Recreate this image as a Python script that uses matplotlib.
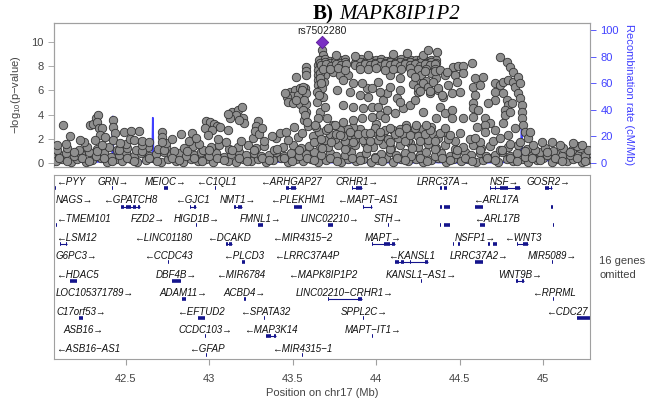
import matplotlib
matplotlib.use("Agg")
import matplotlib.pyplot as plt
import numpy as np

plt.rcParams['font.family'] = ['Liberation Sans', 'DejaVu Sans']
plt.rcParams['mathtext.fontset'] = 'custom'
plt.rcParams['mathtext.rm'] = 'Liberation Sans'
plt.rcParams['mathtext.it'] = 'Liberation Sans:italic'

# ---------------- data (position in Mb, -log10 p) ----------------
lead_snp = "rs7502280"
lead_pos = 43.674
lead_logp = 10.0

# dense low band, read row by row
base_a = [(42.08, .15), (42.12, .35), (42.17, .10), (42.21, .30), (42.26, .05), (42.30, .25),
          (42.35, .40), (42.39, .10), (42.44, .30), (42.48, .15), (42.53, .35), (42.57, .05),
          (42.62, .25), (42.66, .40), (42.71, .10), (42.75, .30), (42.80, .20), (42.84, .05),
          (42.89, .35), (42.93, .15), (42.98, .30), (43.02, .10), (43.07, .40), (43.11, .20),
          (43.16, .05), (43.20, .30), (43.25, .15), (43.29, .35), (43.34, .10), (43.38, .25),
          (43.43, .40), (43.47, .05), (43.52, .30), (43.56, .15), (43.61, .35), (43.65, .10),
          (43.70, .25), (43.74, .40), (43.79, .05), (43.83, .30), (43.88, .15), (43.92, .35),
          (43.97, .10), (44.01, .25), (44.06, .40), (44.10, .05), (44.15, .30), (44.19, .15),
          (44.24, .35), (44.28, .10), (44.33, .25), (44.37, .40), (44.42, .05), (44.46, .30),
          (44.51, .15), (44.55, .35), (44.60, .10), (44.64, .25), (44.69, .40), (44.73, .05),
          (44.78, .30), (44.82, .15), (44.87, .35), (44.91, .10), (44.96, .25), (45.00, .40),
          (45.05, .05), (45.09, .30), (45.14, .15), (45.18, .35), (45.23, .10), (45.26, .25)]
base_b = [(42.10, .65), (42.14, .85), (42.19, .55), (42.23, .75), (42.28, .90), (42.32, .60),
          (42.37, .80), (42.41, .50), (42.46, .70), (42.50, .90), (42.55, .60), (42.59, .80),
          (42.64, .55), (42.68, .75), (42.73, .95), (42.77, .65), (42.82, .85), (42.86, .55),
          (42.91, .70), (42.95, .90), (43.00, .60), (43.04, .80), (43.09, .50), (43.13, .75),
          (43.18, .95), (43.22, .65), (43.27, .85), (43.31, .55), (43.36, .70), (43.40, .90),
          (43.45, .60), (43.49, .80), (43.54, .55), (43.58, .75), (43.63, .95), (43.67, .65),
          (43.72, .85), (43.76, .55), (43.81, .70), (43.85, .90), (43.90, .60), (43.94, .80),
          (43.99, .50), (44.03, .75), (44.08, .95), (44.12, .65), (44.17, .85), (44.21, .55),
          (44.26, .70), (44.30, .90), (44.35, .60), (44.39, .80), (44.44, .55), (44.48, .75),
          (44.53, .95), (44.57, .65), (44.62, .85), (44.66, .55), (44.71, .70), (44.75, .90),
          (44.80, .60), (44.84, .80), (44.89, .50), (44.93, .75), (44.98, .95), (45.02, .65),
          (45.07, .85), (45.11, .55), (45.16, .70), (45.20, .90), (45.25, .60)]
base_c = [(42.09, 1.05), (42.15, 1.25), (42.22, 1.10), (42.27, 1.35), (42.33, 1.15), (42.40, 1.30),
          (42.45, 1.05), (42.51, 1.25), (42.56, 1.10), (42.63, 1.35), (42.69, 1.15), (42.74, 1.30),
          (42.79, 1.00), (42.85, 1.20), (42.90, 1.40), (42.96, 1.10), (43.01, 1.30), (43.06, 1.45),
          (43.12, 1.15), (43.17, 1.35), (43.23, 1.50), (43.28, 1.20), (43.33, 1.40), (43.39, 1.10),
          (43.44, 1.30), (43.50, 1.50), (43.55, 1.20), (43.60, 1.40), (43.66, 1.60), (43.71, 1.30),
          (43.77, 1.50), (43.82, 1.20), (43.87, 1.45), (43.93, 1.65), (43.98, 1.35), (44.04, 1.55),
          (44.09, 1.25), (44.14, 1.45), (44.20, 1.65), (44.25, 1.35), (44.31, 1.55), (44.36, 1.25),
          (44.41, 1.45), (44.47, 1.15), (44.52, 1.35), (44.58, 1.50), (44.63, 1.20), (44.68, 1.40),
          (44.74, 1.10), (44.79, 1.30), (44.85, 1.45), (44.90, 1.15), (44.95, 1.05), (45.01, 1.25),
          (45.06, 1.00), (45.12, 1.20), (45.17, 1.05), (45.22, 1.25), (45.27, 1.10)]
base_d = [(42.100, .45), (42.145, .20), (42.190, .95), (42.235, .45), (42.280, .20), (42.325, 1.0),
          (42.370, .45), (42.415, .20), (42.460, 1.05), (42.505, .45), (42.550, .20), (42.595, 1.0),
          (42.640, .45), (42.685, .20), (42.730, 1.05), (42.775, .45), (42.820, .25), (42.865, 1.0),
          (42.910, .45), (42.955, .20), (43.000, 1.1), (43.045, .45), (43.090, .25), (43.135, 1.1),
          (43.180, .45), (43.225, .20), (43.270, 1.1), (43.315, .45), (43.360, .25), (43.405, 1.15),
          (43.450, .45), (43.495, .20), (43.540, 1.1), (43.585, .45), (43.630, .25), (43.675, 1.2),
          (43.720, .45), (43.765, .20), (43.810, 1.15), (43.855, .45), (43.900, .25), (43.945, 1.2),
          (43.990, .45), (44.035, .20), (44.080, 1.15), (44.125, .45), (44.170, .25), (44.215, 1.2),
          (44.260, .45), (44.305, .20), (44.350, 1.15), (44.395, .45), (44.440, .25), (44.485, 1.1),
          (44.530, .45), (44.575, .20), (44.620, 1.1), (44.665, .45), (44.710, .25), (44.755, 1.05),
          (44.800, .45), (44.845, .20), (44.890, 1.0), (44.935, .45), (44.980, .25), (45.025, .95),
          (45.070, .45), (45.115, .20), (45.160, .95), (45.205, .45), (45.250, .20)]
fringe = [(42.14, 1.55), (42.25, 1.70), (42.36, 1.50), (42.50, 1.60), (42.60, 1.45), (42.74, 1.65),
          (42.88, 1.80), (42.94, 1.60), (43.05, 1.95), (43.10, 1.70), (43.19, 1.85), (43.26, 2.05),
          (43.33, 1.80), (43.40, 2.10), (43.47, 1.90), (43.53, 2.15), (44.47, 1.80), (44.56, 1.95),
          (44.62, 1.70), (44.70, 1.85), (44.80, 1.60), (44.86, 1.75), (44.94, 1.50), (45.10, 1.45),
          (45.20, 1.40)]
peak_base = [(43.62, 2.2), (43.66, 2.6), (43.69, 1.9), (43.72, 2.4), (43.75, 2.0), (43.78, 2.7),
             (43.81, 1.8), (43.84, 2.3), (43.87, 2.0), (43.90, 2.8), (43.92, 1.9), (43.95, 2.2),
             (43.98, 2.6), (44.01, 1.9), (44.04, 2.3), (44.07, 2.0), (44.10, 2.7), (44.13, 2.1),
             (44.16, 2.4), (44.19, 1.9), (44.22, 2.6), (44.25, 2.2), (44.28, 2.8), (44.31, 1.9),
             (44.34, 2.4), (44.37, 2.1), (44.40, 2.6), (44.43, 2.0), (43.64, 3.0), (43.74, 3.1),
             (43.86, 3.0), (44.00, 3.2), (44.18, 3.1), (44.33, 3.0),
             (43.63, 1.7), (43.67, 2.0), (43.70, 2.7), (43.73, 1.7), (43.76, 2.4), (43.80, 2.2),
             (43.83, 2.8), (43.86, 1.7), (43.89, 2.4), (43.93, 2.5), (43.96, 1.8), (43.99, 2.9),
             (44.02, 2.2), (44.05, 2.7), (44.08, 1.7), (44.11, 2.4), (44.14, 2.8), (44.17, 1.8),
             (44.20, 2.3), (44.23, 2.9), (44.26, 1.8), (44.29, 2.4), (44.32, 2.7), (44.35, 1.8),
             (44.38, 2.5), (44.41, 2.9), (44.44, 2.3)]

# scattered points left of the peak
left_pts = [(42.123, 3.14), (42.284, 3.14), (42.302, 3.22), (42.320, 3.72), (42.332, 3.97),
            (42.326, 3.39), (42.338, 2.89), (42.356, 2.89), (42.344, 2.31), (42.314, 1.90),
            (42.422, 3.55), (42.422, 2.98), (42.434, 2.48), (42.422, 1.90), (42.488, 2.56),
            (42.530, 2.64), (42.578, 2.64), (42.524, 1.98), (42.548, 1.90), (42.596, 1.82),
            (42.638, 1.74), (42.716, 2.56), (42.716, 2.15), (42.716, 1.74), (42.829, 2.40),
            (42.775, 1.98), (42.165, 2.23), (42.225, 1.90), (42.087, 1.49), (42.464, 1.65),
            (42.374, 2.15)]
mid_pts = [(43.135, 4.21), (43.171, 4.38), (43.195, 4.63), (43.159, 3.97), (43.123, 3.72),
           (43.201, 3.72), (43.207, 3.31), (43.177, 3.55), (43.111, 4.05), (42.979, 3.47),
           (43.003, 3.39), (43.027, 3.22), (43.045, 3.06), (42.973, 2.89), (43.015, 2.73),
           (43.063, 2.98), (42.991, 2.31), (43.290, 3.47), (43.278, 3.06), (43.272, 2.64),
           (43.296, 2.40), (43.314, 2.89), (42.895, 2.48), (42.919, 2.07), (43.111, 2.73),
           (43.374, 2.23), (43.422, 2.48)]
shoulder_pts = [(43.482, 5.87), (43.512, 6.03), (43.542, 6.20), (43.572, 6.20), (43.554, 5.70),
                (43.494, 5.54), (43.464, 5.45), (43.530, 5.62), (43.578, 5.79), (43.452, 5.79),
                (43.470, 5.04), (43.500, 4.96), (43.542, 4.88), (43.578, 4.88), (43.518, 5.21),
                (43.566, 5.21), (43.518, 7.11), (43.578, 7.93), (43.578, 7.60), (43.578, 7.27),
                (43.578, 4.21), (43.566, 3.55), (43.590, 3.06), (43.506, 2.98), (43.458, 2.56),
                (43.554, 2.48), (43.560, 6.28), (43.554, 6.03), (43.560, 4.38), (43.572, 3.97),
                (43.584, 3.39)]
column_pts = [(43.674, 9.34), (43.680, 8.93), (43.662, 8.51), (43.650, 8.10), (43.650, 7.69),
              (43.650, 7.27), (43.650, 6.86), (43.650, 6.45), (43.662, 6.03), (43.686, 7.9),
              (43.692, 7.3), (43.686, 6.7), (43.674, 6.2), (43.644, 5.87), (43.668, 5.45),
              (43.644, 5.04), (43.662, 4.21), (43.650, 3.72), (43.632, 3.14), (43.680, 5.45),
              (43.692, 4.63), (43.704, 3.72), (43.662, 7.45), (43.662, 7.0), (43.668, 6.6),
              (43.680, 8.4), (43.656, 5.6)]
ridge_pts = [(43.66, 8.5), (43.69, 8.6), (43.72, 8.45), (43.75, 8.55), (43.78, 8.5), (43.81, 8.6),
             (43.88, 8.5), (43.91, 8.6), (43.94, 8.45), (43.97, 8.55), (44.00, 8.5), (44.03, 8.6),
             (44.06, 8.45), (44.09, 8.55), (44.12, 8.5), (44.15, 8.6), (44.18, 8.45), (44.21, 8.55),
             (44.24, 8.5), (44.27, 8.6), (44.30, 8.45), (44.33, 8.55), (44.36, 8.5),
             (43.665, 8.3), (43.695, 8.35), (43.725, 8.3), (43.755, 8.35), (43.785, 8.3),
             (43.815, 8.35), (43.875, 8.3), (43.905, 8.35), (43.935, 8.3), (43.965, 8.35),
             (43.995, 8.3), (44.025, 8.35), (44.055, 8.3), (44.085, 8.35), (44.115, 8.3),
             (44.145, 8.35), (44.175, 8.3), (44.205, 8.35), (44.235, 8.3), (44.265, 8.35),
             (44.295, 8.3), (44.325, 8.35), (44.355, 8.3),
             (43.67, 8.1), (43.70, 8.15), (43.73, 8.05), (43.76, 8.2), (43.79, 8.1), (43.82, 8.15),
             (43.87, 8.1), (43.90, 8.05), (43.93, 8.2), (43.96, 8.1), (43.99, 8.15), (44.02, 8.05),
             (44.05, 8.2), (44.08, 8.1), (44.11, 8.15), (44.14, 8.05), (44.17, 8.2), (44.20, 8.1),
             (44.23, 8.15), (44.26, 8.05), (44.29, 8.2), (44.32, 8.1), (44.35, 8.15),
             (43.68, 7.8), (43.72, 7.75), (43.77, 7.85), (43.81, 7.7), (43.90, 7.8), (43.95, 7.75),
             (44.00, 7.85), (44.05, 7.7), (44.10, 7.8), (44.15, 7.75), (44.20, 7.85), (44.25, 7.8),
             (44.30, 7.75), (44.35, 7.8),
             (43.76, 8.95), (43.95, 8.9), (44.10, 9.0), (44.183, 9.09), (44.28, 8.95),
             (44.308, 9.34), (44.362, 9.17), (43.87, 8.85)]
block_pts = [(44.21, 7.4), (44.24, 6.9), (44.27, 7.3), (44.30, 6.8), (44.33, 7.4), (44.36, 7.0),
             (44.22, 6.5), (44.25, 6.2), (44.28, 6.6), (44.31, 6.3), (44.34, 6.7), (44.37, 6.2),
             (44.23, 7.1), (44.29, 7.6), (44.35, 7.6), (44.26, 5.95), (44.32, 5.95),
             (44.380, 7.69), (44.410, 7.27), (44.428, 6.45), (44.392, 5.62)]
under_pts = [(43.740, 7.52), (43.781, 7.27), (43.829, 7.27), (43.763, 6.03), (43.841, 5.87),
             (43.901, 5.62), (43.949, 5.45), (44.039, 5.21), (44.063, 5.79), (44.141, 7.02),
             (44.009, 6.69), (44.081, 7.27), (44.123, 7.85), (43.799, 4.79), (43.859, 4.63),
             (43.919, 4.55), (43.973, 4.63), (44.009, 4.63), (44.063, 4.38), (44.021, 3.97),
             (43.973, 3.80), (43.913, 3.72), (43.859, 3.55), (43.799, 3.39), (43.751, 3.14),
             (43.710, 2.89), (44.051, 3.72), (44.111, 4.13), (44.159, 4.55), (44.201, 4.79),
             (44.231, 5.21), (44.278, 4.21), (44.123, 5.37), (44.141, 5.04), (44.021, 5.87),
             (43.943, 6.20), (43.859, 6.61), (43.799, 6.86), (43.913, 6.61), (43.973, 6.20),
             (44.081, 6.28), (44.141, 6.03), (44.249, 5.87), (44.321, 5.79), (44.368, 6.03),
             (44.398, 5.45), (44.380, 4.63), (44.410, 4.13), (44.356, 3.72), (44.296, 3.14),
             (44.237, 3.14), (44.177, 2.89), (44.135, 2.56), (44.081, 2.89), (44.021, 2.56),
             (43.961, 2.48), (43.841, 2.56), (43.781, 2.31)]
right_pts = [(44.458, 7.93), (44.488, 8.02), (44.518, 8.02), (44.572, 8.26), (44.518, 7.44),
             (44.470, 7.27), (44.482, 6.69), (44.590, 7.02), (44.638, 7.11), (44.740, 8.76),
             (44.781, 8.35), (44.578, 6.28), (44.620, 6.45), (44.710, 6.61), (44.740, 6.45),
             (44.758, 6.69), (44.787, 6.86), (44.817, 6.69), (44.829, 6.28), (44.847, 5.79),
             (44.859, 5.37), (44.871, 4.79), (44.871, 4.21), (44.871, 3.72), (44.877, 3.14),
             (44.889, 2.56), (44.907, 2.07), (44.452, 5.79), (44.500, 5.87), (44.590, 5.62),
             (44.710, 5.87), (44.758, 5.79), (44.781, 5.21), (44.787, 4.79), (44.811, 4.96),
             (44.769, 4.38), (44.769, 3.97), (44.799, 4.21), (44.758, 3.31), (44.710, 5.21),
             (44.668, 4.96), (44.578, 4.96), (44.578, 4.55), (44.608, 4.38), (44.578, 3.80),
             (44.452, 4.38), (44.452, 3.72), (44.518, 3.72), (44.650, 3.72), (44.680, 3.31),
             (44.650, 3.14), (44.602, 2.98), (44.500, 2.48), (44.650, 2.56), (44.710, 2.73),
             (44.829, 2.89), (44.787, 2.31), (44.740, 2.07), (44.590, 2.07), (44.919, 2.56),
             (44.991, 1.74), (45.051, 1.74), (45.177, 1.65), (45.231, 1.49), (44.799, 7.93),
             (44.817, 7.52), (44.847, 7.11), (44.859, 6.61), (44.422, 7.52)]

# recombination rate (cM/Mb)
recomb_pos = [42.07, 42.15, 42.25, 42.35, 42.418, 42.422, 42.426, 42.50, 42.60, 42.658, 42.662,
              42.666, 42.75, 42.90, 43.05, 43.20, 43.35, 43.50, 43.65, 43.80, 43.933, 43.937,
              43.941, 44.05, 44.20, 44.346, 44.350, 44.354, 44.45, 44.60, 44.75, 44.867, 44.871,
              44.875, 45.00, 45.10, 45.20, 45.28]
recomb_rate = [0.8, 1.2, 0.6, 1.0, 1.0, 35, 1.0, 0.8, 1.2, 1.0, 34, 1.0, 0.8, 1.5, 2.0, 1.2, 0.8,
               1.0, 0.5, 0.3, 0.5, 15, 0.5, 0.4, 0.3, 0.5, 15, 0.5, 0.2, 0.2, 0.5, 1.0, 43, 1.0,
               2.0, 1.5, 1.0, 1.2]

# genes: name, row, strand, exon blocks (Mb), joined by an intron line
genes = [
    ("PYY", 1, "-", [(42.078, 42.084)], False),
    ("GRN", 1, "+", [(42.418, 42.426)], False),
    ("MEIOC", 1, "+", [(42.728, 42.752)], False),
    ("C1QL1", 1, "-", [(43.036, 43.042)], False),
    ("ARHGAP27", 1, "-", [(43.458, 43.476), (43.488, 43.518)], True),
    ("CRHR1", 1, "+", [(43.853, 43.862), (43.880, 43.913)], True),
    ("LRRC37A", 1, "+", [(44.380, 44.392), (44.404, 44.422)], False),
    ("NSF", 1, "+", [(44.680, 44.686), (44.710, 44.720), (44.740, 44.790), (44.830, 44.859)], True),
    ("GOSR2", 1, "+", [(45.009, 45.033), (45.045, 45.051)], True),
    ("NAGS", 2, "+", [(42.079, 42.084)], False),
    ("GPATCH8", 2, "-", [(42.470, 42.488), (42.500, 42.530), (42.545, 42.560), (42.575, 42.584)], True),
    ("GJC1", 2, "-", [(42.883, 42.890), (42.910, 42.919)], True),
    ("NMT1", 2, "+", [(43.147, 43.160), (43.170, 43.195)], True),
    ("PLEKHM1", 2, "-", [(43.506, 43.554)], False),
    ("MAPT\u2212AS1", 2, "-", [(43.919, 43.925), (43.967, 43.973)], True),
    ("ARL17A", 2, "-", [(44.380, 44.395), (44.405, 44.440), (44.590, 44.638), (45.045, 45.057)], False),
    ("TMEM101", 3, "-", [(42.084, 42.090)], False),
    ("FZD2", 3, "+", [(42.630, 42.634)], False),
    ("HIGD1B", 3, "+", [(42.923, 42.927)], False),
    ("FMNL1", 3, "+", [(43.290, 43.320)], False),
    ("LINC02210", 3, "+", [(43.710, 43.740)], False),
    ("STH", 3, "+", [(44.073, 44.077)], False),
    ("ARL17B", 3, "-", [(44.380, 44.388), (44.405, 44.440), (44.620, 44.650), (45.060, 45.066)], False),
    ("LSM12", 4, "-", [(42.105, 42.110), (42.142, 42.147)], True),
    ("LINC01180", 4, "-", [(42.720, 42.724)], False),
    ("DCAKD", 4, "-", [(43.099, 43.110), (43.120, 43.135)], True),
    ("MIR4315\u22122", 4, "-", [(43.553, 43.556)], False),
    ("MAPT", 4, "+", [(43.973, 43.980), (44.045, 44.085), (44.095, 44.111)], True),
    ("NSFP1", 4, "+", [(44.458, 44.468), (44.490, 44.500), (44.668, 44.680), (44.700, 44.722)], False),
    ("WNT3", 4, "-", [(44.841, 44.848), (44.880, 44.907)], True),
    ("G6PC3", 5, "+", [(42.091, 42.096)], False),
    ("CCDC43", 5, "-", [(42.754, 42.760)], False),
    ("PLCD3", 5, "-", [(43.195, 43.213)], False),
    ("LRRC37A4P", 5, "-", [(43.584, 43.584)], False),
    ("KANSL1", 5, "-", [(44.111, 44.135), (44.150, 44.165), (44.200, 44.210), (44.290, 44.308)], True),
    ("LRRC37A2", 5, "+", [(44.590, 44.638)], False),
    ("MIR5089", 5, "+", [(45.055, 45.059)], False),
    ("HDAC5", 6, "-", [(42.165, 42.207)], False),
    ("DBF4B", 6, "+", [(42.775, 42.829)], False),
    ("MIR6784", 6, "-", [(43.188, 43.191)], False),
    ("MAPK8IP1P2", 6, "-", [(43.678, 43.682)], False),
    ("KANSL1\u2212AS1", 6, "+", [(44.270, 44.274)], False),
    ("WNT9B", 6, "+", [(44.835, 44.848), (44.870, 44.883)], True),
    ("LOC105371789", 7, "+", [(42.193, 42.197)], False),
    ("ADAM11", 7, "+", [(42.835, 42.859)], False),
    ("ACBD4", 7, "+", [(43.207, 43.219)], False),
    ("LINC02210\u2212CRHR1", 7, "+", [(43.710, 43.714), (43.745, 43.749), (43.890, 43.913)], True),
    ("RPRML", 7, "-", [(45.061, 45.065)], False),
    ("C17orf53", 8, "+", [(42.219, 42.243)], False),
    ("EFTUD2", 8, "-", [(42.931, 42.973)], False),
    ("SPATA32", 8, "-", [(43.330, 43.334)], False),
    ("SPPL2C", 8, "+", [(43.923, 43.927)], False),
    ("CDC27", 8, "-", [(45.201, 45.278)], False),
    ("ASB16", 9, "+", [(42.247, 42.252)], False),
    ("CCDC103", 9, "+", [(42.977, 42.981)], False),
    ("MAP3K14", 9, "-", [(43.338, 43.370), (43.385, 43.398)], True),
    ("MAPT\u2212IT1", 9, "+", [(43.977, 43.981)], False),
    ("ASB16\u2212AS1", 10, "-", [(42.253, 42.258)], False),
    ("GFAP", 10, "-", [(42.983, 42.988)], False),
    ("MIR4315\u22121", 10, "-", [(43.555, 43.559)], False),
]
xticks = [42.5, 43, 43.5, 44, 44.5, 45]

# ---------------- style ----------------
pt_face = "#8f8f8f"
pt_edge = "#333333"
rec_col = "#4040ff"
axis_gray = "#a0a0a0"
text_gray = "#444444"
gene_col = "#14148c"
xlim = (42.07, 45.28)

fig = plt.figure(figsize=(6.48, 4.01), dpi=100)
W, H = 648.0, 401.0
ax = fig.add_axes([54 / W, 1 - 167 / H, 536 / W, 144 / H])
gax = fig.add_axes([54 / W, 1 - 359 / H, 536 / W, 184 / H])

# recombination on a twin axis kept behind the points
ax2 = ax.twinx()
ax.set_zorder(ax2.get_zorder() + 1)
ax.patch.set_visible(False)
ax2.plot(recomb_pos, recomb_rate, color=rec_col, lw=1.3)
ax2.set_ylim(-3.0, 105.3)
ax2.set_yticks([0, 20, 40, 60, 80, 100])
ax2.tick_params(axis='y', colors=rec_col, labelsize=8, length=4, width=0.6, labelcolor=rec_col)
ax2.set_ylabel("Recombination rate (cM/Mb)", color=rec_col, fontsize=8, rotation=270, labelpad=11)

pts = base_a + base_b + base_c + base_d + fringe + peak_base + left_pts + mid_pts + \
    shoulder_pts + column_pts + under_pts + ridge_pts + block_pts + right_pts
px = np.array([p[0] for p in pts])
py = np.array([p[1] for p in pts])
ax.scatter(px, py, s=37, c=pt_face, edgecolors=pt_edge, linewidths=0.6, zorder=3)
ax.scatter([lead_pos], [lead_logp], s=40, marker='D', c='#7a2fc4', edgecolors='#5a1a9a',
           linewidths=0.6, zorder=4)
ax.text(lead_pos, lead_logp + 0.5, lead_snp, ha='center', va='bottom', fontsize=7.5, color='#222222')

ax.set_xlim(*xlim)
ax.set_ylim(-0.33, 11.57)
ax.set_yticks([0, 2, 4, 6, 8, 10])
ax.set_xticks([])
ax.tick_params(axis='y', labelsize=8, length=4, width=0.6, colors=axis_gray, labelcolor=text_gray)
ax.set_ylabel(r"$-$log$_{10}$(p$-$value)", fontsize=8, color=text_gray, labelpad=6)
for a in (ax, ax2):
    for s in a.spines.values():
        s.set_color(axis_gray)
        s.set_linewidth(0.8)
ax2.spines['right'].set_color("#b8b8ff")

# ---------------- gene track ----------------
gax.set_xlim(*xlim)
gax.set_ylim(10.22, 0.30)
gax.set_yticks([])
gax.set_xticks(xticks)
gax.set_xticklabels(["42.5", "43", "43.5", "44", "44.5", "45"])
gax.tick_params(axis='x', labelsize=8, length=4, width=0.8, colors=axis_gray, labelcolor=text_gray, pad=7)
gax.set_xlabel("Position on chr17 (Mb)", fontsize=8, color=text_gray, labelpad=3)
for s in gax.spines.values():
    s.set_color(axis_gray)
    s.set_linewidth(0.8)

gene_texts = []
for name, row, strand, blocks, joined in genes:
    start = min(b[0] for b in blocks)
    end = max(b[1] for b in blocks)
    if joined:
        gax.plot([start, end], [row, row], color=gene_col, lw=0.8, solid_capstyle='butt')
    for b0, b1 in blocks:
        if b1 - b0 > 0:
            gax.plot([b0, b1], [row, row], color=gene_col, lw=2.6, solid_capstyle='butt')
    label = ("\u2190" + name) if strand == "-" else (name + "\u2192")
    t = gax.text((start + end) / 2, row - 0.33, label, ha='center', va='center',
                 fontsize=7, style='italic', color='#111111')
    gene_texts.append(t)

fig.text(599 / W, 1 - 261 / H, "16 genes", fontsize=8, color=text_gray, va='center')
fig.text(599 / W, 1 - 275 / H, "omitted", fontsize=8, color=text_gray, va='center')

# title: bold panel letter + italic gene symbol
fig.text(334 / W, 1 - 19 / H, "B)", ha='right', va='baseline', fontsize=15,
         family='Liberation Serif', weight='bold')
fig.text(339 / W, 1 - 19 / H, "MAPK8IP1P2", ha='left', va='baseline', fontsize=15,
         family='Liberation Serif', style='italic')

# keep gene labels inside the track box
fig.canvas.draw()
r = fig.canvas.get_renderer()
gbb = gax.get_window_extent(r)
for t in gene_texts:
    bb = t.get_window_extent(r)
    dx = 0
    if bb.x0 < gbb.x0 + 2:
        dx = gbb.x0 + 2 - bb.x0
    elif bb.x1 > gbb.x1 - 2:
        dx = gbb.x1 - 2 - bb.x1
    if dx:
        xd, yd = gax.transData.transform(t.get_position())
        t.set_position(gax.transData.inverted().transform((xd + dx, yd)))

fig.savefig("out.png", dpi=100)
